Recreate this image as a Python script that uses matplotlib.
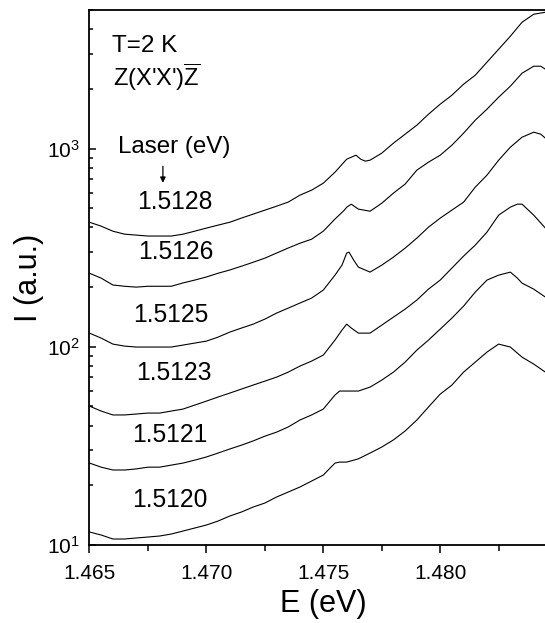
import matplotlib
matplotlib.use('Agg')
from matplotlib import pyplot as plt
from matplotlib.ticker import FixedLocator, LogLocator, NullFormatter
import numpy as np

plt.rcParams['font.family'] = ['Liberation Sans', 'DejaVu Sans']
plt.rcParams['mathtext.fontset'] = 'custom'
plt.rcParams['mathtext.rm'] = 'Liberation Sans'
plt.rcParams['mathtext.it'] = 'Liberation Sans:italic'

# spectra, energy in eV and intensity in a.u.
laser = ['1.5128', '1.5126', '1.5125', '1.5123', '1.5121', '1.5120']

e_1 = [1.4650, 1.4655, 1.4660, 1.4665, 1.4670, 1.4675, 1.4680, 1.4685, 1.4690, 1.4695,
       1.4700, 1.4705, 1.4710, 1.4715, 1.4720, 1.4725, 1.4730, 1.4735, 1.4740, 1.4745,
       1.4750, 1.4755, 1.4760, 1.4762, 1.4764, 1.4766, 1.4768, 1.4770, 1.4775, 1.4780,
       1.4785, 1.4790, 1.4795, 1.4800, 1.4805, 1.4810, 1.4815, 1.4820, 1.4825, 1.4830,
       1.4835, 1.4840, 1.4845]
i_1 = [425, 406, 383, 370, 366, 362, 362, 362, 370, 383,
       397, 411, 425, 446, 467, 489, 512, 537, 582, 617,
       669, 760, 884, 905, 926, 884, 864, 874, 948, 1065,
       1182, 1312, 1491, 1675, 1859, 2112, 2346, 2728, 3171, 3687,
       4339, 4762, 4873]

e_2 = [1.4650, 1.4655, 1.4660, 1.4665, 1.4670, 1.4675, 1.4680, 1.4685, 1.4690, 1.4695,
       1.4700, 1.4705, 1.4710, 1.4715, 1.4720, 1.4725, 1.4730, 1.4735, 1.4740, 1.4745,
       1.4750, 1.4755, 1.4759, 1.4760, 1.4762, 1.4765, 1.4770, 1.4775, 1.4780, 1.4785,
       1.4790, 1.4795, 1.4800, 1.4805, 1.4810, 1.4815, 1.4820, 1.4825, 1.4830, 1.4835,
       1.4840, 1.4843, 1.4845]
i_2 = [235, 222, 205, 202, 200, 202, 202, 202, 210, 217,
       225, 235, 244, 255, 267, 280, 297, 315, 333, 349,
       383, 441, 489, 506, 524, 495, 483, 530, 596, 662,
       778, 854, 926, 1040, 1196, 1391, 1580, 1816, 2064, 2400,
       2603, 2603, 2514]

e_3 = [1.4650, 1.4655, 1.4660, 1.4665, 1.4670, 1.4675, 1.4680, 1.4685, 1.4690, 1.4695,
       1.4700, 1.4705, 1.4710, 1.4715, 1.4720, 1.4725, 1.4730, 1.4735, 1.4740, 1.4745,
       1.4750, 1.4755, 1.4758, 1.4760, 1.4761, 1.4763, 1.4765, 1.4770, 1.4775, 1.4780,
       1.4785, 1.4790, 1.4795, 1.4800, 1.4805, 1.4810, 1.4815, 1.4820, 1.4825, 1.4830,
       1.4835, 1.4840, 1.4843, 1.4845]
i_3 = [117.2, 110.6, 103.2, 100.8, 99.7, 99.7, 99.7, 99.7, 102.0, 104.4,
       106.8, 111.9, 118.6, 124.3, 130.1, 137.9, 147.9, 156.7, 166.2, 176.1,
       193.2, 229.9, 258.2, 296.9, 300.3, 273.6, 252.3, 238.1, 258.2, 283.4,
       314.6, 353.3, 401.5, 445.7, 489.3, 536.6, 638.9, 734.4, 873.9, 1016,
       1141, 1210, 1182, 1128]

e_4 = [1.4650, 1.4655, 1.4660, 1.4665, 1.4670, 1.4675, 1.4680, 1.4685, 1.4690, 1.4695,
       1.4700, 1.4705, 1.4710, 1.4715, 1.4720, 1.4725, 1.4730, 1.4735, 1.4740, 1.4745,
       1.4750, 1.4755, 1.4758, 1.4760, 1.4762, 1.4765, 1.4770, 1.4775, 1.4780, 1.4785,
       1.4790, 1.4795, 1.4800, 1.4805, 1.4810, 1.4815, 1.4820, 1.4825, 1.4830, 1.4833,
       1.4835, 1.4840, 1.4845]
i_4 = [50.2, 47.4, 45.3, 45.3, 45.8, 46.3, 46.3, 47.4, 48.5, 50.8,
       53.2, 55.8, 58.4, 61.2, 64.1, 67.1, 70.3, 74.5, 79.9, 84.7,
       90.8, 108.1, 121.4, 130.1, 124.3, 117.2, 117.2, 128.6, 141.2, 154.9,
       172.0, 195.4, 217.0, 249.5, 286.7, 325.9, 378.8, 461.5, 506.4, 524.3,
       524.3, 461.5, 396.8]

e_5 = [1.4650, 1.4655, 1.4660, 1.4665, 1.4670, 1.4675, 1.4680, 1.4685, 1.4690, 1.4695,
       1.4700, 1.4705, 1.4710, 1.4715, 1.4720, 1.4725, 1.4730, 1.4735, 1.4740, 1.4745,
       1.4750, 1.4755, 1.4757, 1.4760, 1.4765, 1.4770, 1.4775, 1.4780, 1.4785, 1.4790,
       1.4795, 1.4800, 1.4805, 1.4810, 1.4815, 1.4820, 1.4825, 1.4830, 1.4833, 1.4835,
       1.4840, 1.4845]
i_5 = [25.9, 24.7, 23.9, 23.9, 24.2, 24.7, 24.7, 25.3, 25.9, 26.8,
       27.8, 29.1, 30.5, 31.9, 33.5, 35.4, 37.1, 39.4, 42.7, 45.3,
       48.5, 57.1, 59.8, 59.8, 59.8, 62.6, 67.9, 74.5, 83.7, 96.2,
       108.1, 122.8, 139.5, 160.4, 188.8, 217.0, 229.9, 238.1, 222.1, 209.5,
       195.4, 178.1]

e_6 = [1.4650, 1.4655, 1.4660, 1.4665, 1.4670, 1.4675, 1.4680, 1.4685, 1.4690, 1.4695,
       1.4700, 1.4705, 1.4710, 1.4715, 1.4720, 1.4725, 1.4730, 1.4735, 1.4740, 1.4745,
       1.4750, 1.4755, 1.4757, 1.4760, 1.4765, 1.4770, 1.4775, 1.4780, 1.4785, 1.4790,
       1.4795, 1.4800, 1.4805, 1.4810, 1.4815, 1.4820, 1.4825, 1.4830, 1.4833, 1.4835,
       1.4840, 1.4845]
i_6 = [11.63, 11.23, 10.72, 10.72, 10.85, 10.97, 11.10, 11.36, 11.76, 12.18,
       12.61, 13.21, 14.00, 14.67, 15.54, 16.28, 17.46, 18.50, 19.61, 21.02,
       22.54, 25.9, 26.2, 26.2, 27.2, 29.1, 31.2, 33.9, 37.6, 42.7,
       49.7, 57.7, 64.1, 74.5, 83.7, 94.0, 103.2, 99.7, 92.9, 88.7,
       81.8, 74.5]

energies = [e_1, e_2, e_3, e_4, e_5, e_6]
intensities = [i_1, i_2, i_3, i_4, i_5, i_6]

x_ticks = [1.465, 1.470, 1.475, 1.480]
x_minor = [1.4675, 1.4725, 1.4775, 1.4825]

fig = plt.figure(figsize=(5.45, 6.23), dpi=100)
# the frame runs past the right edge of the picture, as in the original
ax = fig.add_axes([0.1642, 0.1252, 0.858, 0.8587])

for e, i in zip(energies, intensities):
    ax.plot(e, i, color='black', lw=0.8)

ax.set_yscale('log')
ax.set_xlim(1.465, 1.485)
ax.set_ylim(10, 5000)

ax.xaxis.set_major_locator(FixedLocator(x_ticks))
ax.xaxis.set_minor_locator(FixedLocator(x_minor))
ax.set_xticklabels(['%.3f' % t for t in x_ticks])
ax.yaxis.set_major_locator(FixedLocator([10, 100, 1000]))
ax.set_yticklabels([r'$10^{1}$', r'$10^{2}$', r'$10^{3}$'])
ax.yaxis.set_minor_locator(LogLocator(base=10, subs=np.arange(2, 10)))
ax.yaxis.set_minor_formatter(NullFormatter())

ax.tick_params(axis='x', which='major', direction='out', length=6, width=1.1,
               labelsize=15, pad=8, top=False)
ax.tick_params(axis='x', which='minor', direction='out', length=4, width=1.1, top=False)
ax.tick_params(axis='y', which='major', direction='in', length=5, width=1.1,
               labelsize=15, pad=7, right=False)
ax.tick_params(axis='y', which='minor', direction='in', length=3, width=1.1, right=False)

for s in ax.spines.values():
    s.set_linewidth(1.3)

ax.set_xlabel('E (eV)', fontsize=22, labelpad=4)
ax.set_ylabel('I (a.u.)', fontsize=22, labelpad=2)

ax.text(0.048, 0.933, 'T=2 K', transform=ax.transAxes, fontsize=17.5, va='center')
ax.text(0.050, 0.875, r"Z(X'X')$\overline{\mathrm{Z}}$", transform=ax.transAxes,
        fontsize=17, va='center')
ax.text(0.061, 0.744, 'Laser (eV)', transform=ax.transAxes, fontsize=17.4, va='center')
ax.annotate('', xy=(0.157, 0.677), xytext=(0.157, 0.708), xycoords='axes fraction',
            arrowprops=dict(arrowstyle='-|>', color='black', lw=0.9,
                            mutation_scale=8, shrinkA=0, shrinkB=0))

label_pos = [(0.183, 0.641), (0.185, 0.548), (0.174, 0.430),
             (0.181, 0.3215), (0.172, 0.2056), (0.172, 0.0841)]
for name, (fx, fy) in zip(laser, label_pos):
    ax.text(fx, fy, name, transform=ax.transAxes, fontsize=17.7, ha='center', va='center')

fig.savefig('out.png', dpi=100)
